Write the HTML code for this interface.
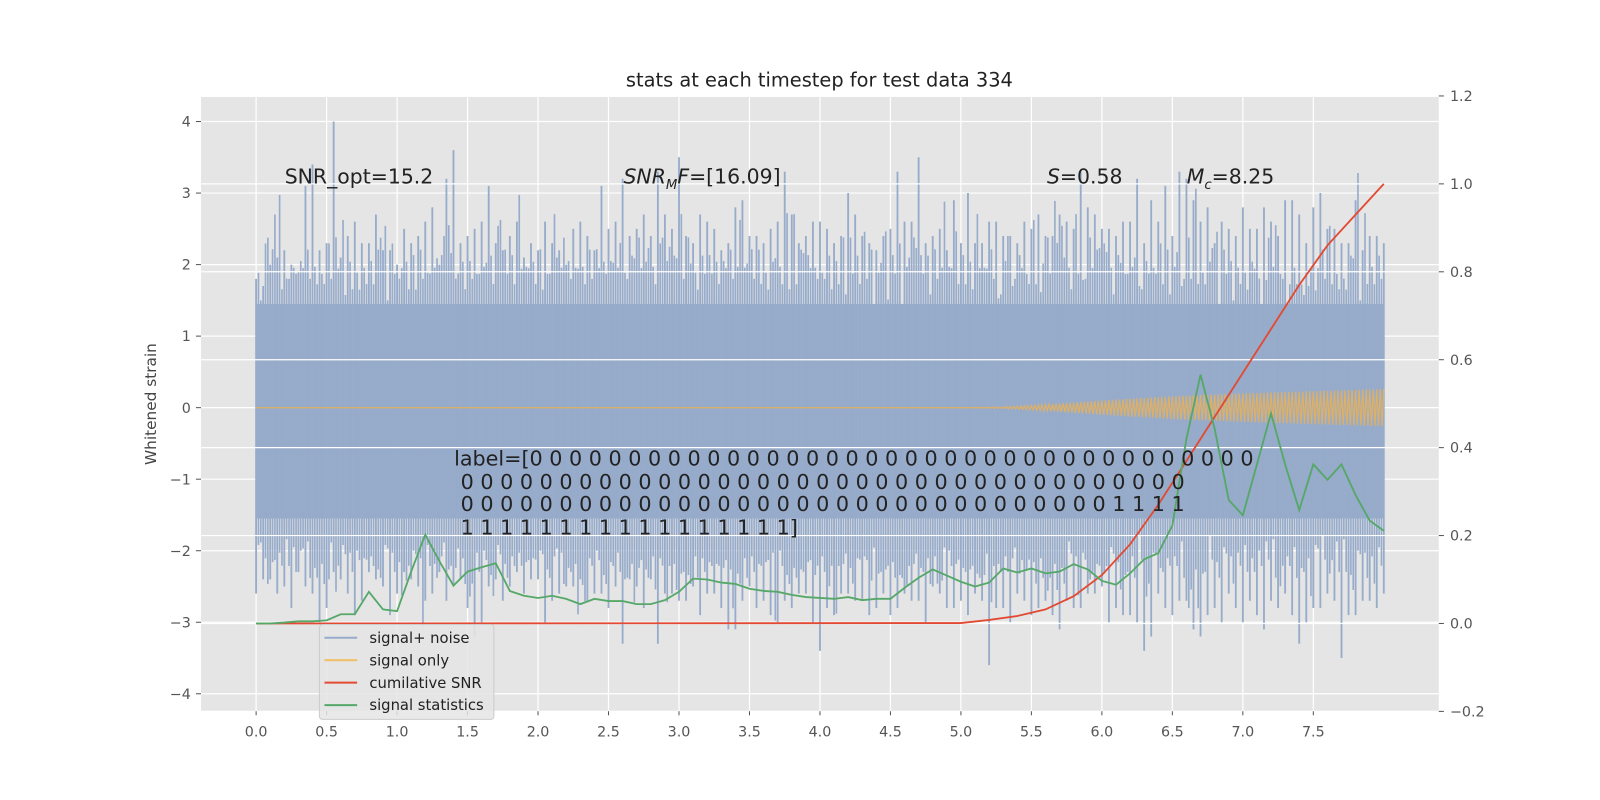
<!DOCTYPE html>
<html><head><meta charset="utf-8"><style>
html,body{margin:0;padding:0;background:#fff;overflow:hidden;width:1600px;height:800px;}
svg{display:block;}
svg text{font-family:"DejaVu Sans","Liberation Sans",sans-serif;}
#wrap{position:absolute;left:0;top:0;width:1568px;height:784px;transform:scale(1.020408);transform-origin:0 0;}
</style></head><body>
<div id="wrap">
<svg id="chart" width="1568" height="784" viewBox="0 0 1568 784" xmlns="http://www.w3.org/2000/svg" style="position:absolute;left:0;top:0;">
<rect x="0" y="0" width="1568" height="784" fill="#fff"/>
<rect x="197" y="95" width="1213" height="602" fill="#e5e5e5"/>
<g id="gridL"></g><g id="noise"></g><g id="signal"></g><g id="gridR"></g><g id="lines"></g><g id="axes"></g><g id="annot"></g>
</svg>
<div style="position:absolute;left:0;top:0;width:1568px;height:784px;pointer-events:none;font-family:'DejaVu Sans','Liberation Sans',sans-serif;color:#222;">
<div style="position:absolute;left:0;width:1606px;top:68px;text-align:center;font-size:19px;">stats at each timestep for test data 334</div>
<div style="position:absolute;left:148px;top:396px;font-size:15px;color:#444;transform:translate(-50%,-50%) rotate(-90deg);white-space:nowrap;">Whitened strain</div>
<div style="position:absolute;left:279px;top:161px;font-size:20px;">SNR_opt=15.2</div>
<div style="position:absolute;left:611px;top:161px;font-size:20px;"><i>SNR<sub style="font-size:13px">M</sub>F</i>=[16.09]</div>
<div style="position:absolute;left:1026px;top:161px;font-size:20px;"><i>S</i>=0.58</div>
<div style="position:absolute;left:1163px;top:161px;font-size:20px;"><i>M<sub style="font-size:13px">c</sub></i>=8.25</div>
<pre style="position:absolute;left:445px;top:438px;margin:0;font-family:'DejaVu Sans','Liberation Sans',sans-serif;font-size:20.3px;line-height:22.5px;color:#222;">label=[0 0 0 0 0 0 0 0 0 0 0 0 0 0 0 0 0 0 0 0 0 0 0 0 0 0 0 0 0 0 0 0 0 0 0 0 0
 0 0 0 0 0 0 0 0 0 0 0 0 0 0 0 0 0 0 0 0 0 0 0 0 0 0 0 0 0 0 0 0 0 0 0 0 0
 0 0 0 0 0 0 0 0 0 0 0 0 0 0 0 0 0 0 0 0 0 0 0 0 0 0 0 0 0 0 0 0 0 1 1 1 1
 1 1 1 1 1 1 1 1 1 1 1 1 1 1 1 1 1]</pre>
</div>
</div>
<script>
// ---- data ----
const xTicks=[0.0,0.5,1.0,1.5,2.0,2.5,3.0,3.5,4.0,4.5,5.0,5.5,6.0,6.5,7.0,7.5];
const yTicksL=[4,3,2,1,0,-1,-2,-3,-4];
const yTicksR=[1.2,1.0,0.8,0.6,0.4,0.2,0.0,-0.2];
const noiseUpper=[1.8,2.0,2.2,1.9,3.4,2.3,2.1,2.6,2.3,2.2,2.0,2.3,2.6,2.0,3.6,2.4,2.6,2.3,2.4,2.1,2.2,2.3,2.0,2.6,2.2,2.5,3.2,2.5,2.4,2.7,3.5,2.3,2.6,2.2,2.8,2.4,2.3,2.6,2.7,2.4,2.6,2.3,3.0,2.4,2.2,2.5,2.6,3.5,2.4,2.2,2.3,2.3,2.6,2.4,2.3,2.5,2.4,2.7,2.5,2.8,2.5,2.4,2.6,2.3,2.6,2.4,3.2,2.6,2.3,2.5,2.8,2.5,2.6,2.9,2.7,2.8,2.5,2.3,2.9,2.4,2.3];
const noiseUpper2=[1.7,2.1,2.0,3.1,2.2,4.0,2.4,2.3,2.7,2.2,2.5,2.4,2.8,3.2,2.3,2.5,3.1,2.2,2.6,2.3,2.6,2.2,2.5,2.4,3.1,2.6,2.4,2.7,3.3,2.5,2.4,2.7,2.5,2.3,2.9,2.4,2.5,3.3,2.3,2.6,2.5,2.4,2.7,2.3,2.4,3.3,2.6,2.3,2.5,2.9,3.0,2.3,2.6,2.4,2.6,2.7,2.4,2.6,3.3,2.7,2.5,2.6,3.2,2.9,3.1,3.3,2.9,2.8,2.6,2.4,2.5,2.8,2.4,2.9,2.3,3.0,2.5,2.3,2.2,2.4];
const noiseLower=[-2.6,-2.4,-2.5,-2.3,-2.6,-2.8,-2.4,-2.9,-2.3,-2.5,-2.6,-2.4,-2.7,-2.3,-2.5,-2.8,-3.0,-2.4,-2.5,-2.6,-2.4,-2.7,-2.5,-2.4,-2.6,-2.8,-3.3,-2.5,-2.4,-2.6,-2.7,-2.5,-2.6,-2.8,-3.1,-2.5,-2.7,-3.0,-2.8,-2.6,-3.4,-2.9,-2.6,-2.7,-2.8,-2.9,-2.6,-2.7,-2.5,-2.8,-2.7,-2.6,-3.6,-2.8,-2.6,-2.9,-2.7,-3.1,-2.8,-2.6,-2.5,-2.8,-2.9,-3.4,-2.6,-2.9,-2.7,-3.2,-2.8,-2.6,-3.0,-2.9,-2.7,-2.6,-3.3,-2.8,-2.6,-3.5,-2.9,-2.7,-2.6];
const noiseLower2=[-2.4,-2.6,-2.8,-2.5,-3.0,-2.3,-2.6,-2.7,-2.4,-2.9,-2.3,-2.5,-2.6,-2.7,-2.4,-3.2,-2.5,-2.7,-2.3,-2.4,-3.0,-2.6,-2.5,-2.7,-2.6,-2.5,-2.4,-2.8,-3.3,-2.6,-2.7,-2.9,-2.6,-3.1,-2.7,-2.8,-2.9,-2.7,-2.6,-3.0,-2.8,-2.6,-2.7,-2.9,-2.6,-2.8,-2.7,-3.0,-2.6,-2.8,-2.9,-2.7,-2.8,-3.0,-2.7,-2.8,-2.9,-2.7,-2.8,-2.6,-3.0,-2.9,-3.0,-3.2,-2.8,-2.7,-3.1,-2.9,-3.0,-2.8,-2.7,-3.1,-2.8,-2.9,-3.0,-2.8,-2.7,-2.9,-2.7,-2.8];
const coreHi=1.45, coreLo=-1.55;
const sigT=[0,5.0,5.3,5.5,6.0,6.5,7.0,7.5,8.0];
const sigAmp=[0,0,0.01,0.03,0.1,0.16,0.2,0.23,0.26];
const snrT=[0,5.0,5.2,5.4,5.6,5.8,6.0,6.2,6.4,6.6,6.8,7.0,7.2,7.4,7.6,7.8,8.0];
const snrV=[0,0.001,0.008,0.017,0.032,0.062,0.11,0.18,0.27,0.37,0.47,0.57,0.67,0.77,0.86,0.93,1.0];
const statV=[0,0,0.002,0.005,0.005,0.007,0.021,0.021,0.072,0.032,0.028,0.118,0.202,0.142,0.086,0.118,0.128,0.137,0.074,0.063,0.058,0.063,0.056,0.044,0.056,0.051,0.051,0.044,0.044,0.053,0.072,0.102,0.1,0.093,0.09,0.079,0.074,0.072,0.065,0.06,0.058,0.056,0.06,0.053,0.056,0.056,0.081,0.104,0.123,0.109,0.095,0.084,0.093,0.125,0.116,0.125,0.114,0.118,0.135,0.123,0.097,0.088,0.114,0.146,0.16,0.223,0.42,0.566,0.443,0.281,0.246,0.362,0.478,0.362,0.258,0.362,0.327,0.362,0.292,0.234,0.211];
const statDt=0.1;
const legendLabels=["signal+ noise","signal only","cumilative SNR","signal statistics"];
// ---- scales ----
const X=t=>251+t*138.14;
const YL=v=>399.5-v*70.1;
const YR=v=>611-v*430.8;
const NS="http://www.w3.org/2000/svg";
function mk(tag,attrs,parent,txt){const e=document.createElementNS(NS,tag);for(const k in attrs)e.setAttribute(k,attrs[k]);if(txt!==undefined)e.textContent=txt;parent.appendChild(e);return e;}
const gL=document.getElementById('gridL'),gR=document.getElementById('gridR'),gN=document.getElementById('noise'),gS=document.getElementById('signal'),gLn=document.getElementById('lines'),gA=document.getElementById('axes'),gT=document.getElementById('annot');
xTicks.forEach(t=>{const l=mk('line',{x1:X(t),x2:X(t),y1:95,y2:697,stroke:'#fff','stroke-width':1.2},gL);


mk('line',{x1:X(t),x2:X(t),y1:697,y2:701,stroke:'#555'},gA);
const tx=mk('text',{x:X(t),y:722,'font-size':14,fill:'#555','text-anchor':'middle'},gA,t.toFixed(1));

});
yTicksL.forEach(v=>{const l=mk('line',{x1:197,x2:1410,y1:YL(v),y2:YL(v),stroke:'#fff','stroke-width':1.2},gL);


mk('line',{x1:192,x2:197,y1:YL(v),y2:YL(v),stroke:'#555'},gA);
const tx=mk('text',{x:187,y:YL(v)+5,'font-size':14,fill:'#555','text-anchor':'end'},gA,v===0?'0':(v<0?'\u2212'+(-v):String(v)));

});
yTicksR.forEach(v=>{const l=mk('line',{x1:197,x2:1410,y1:YR(v),y2:YR(v),stroke:'#fff','stroke-width':1.2},gR);


mk('line',{x1:1410,x2:1415,y1:YR(v),y2:YR(v),stroke:'#555'},gA);
const tx=mk('text',{x:1421,y:YR(v)+5,'font-size':14,fill:'#555'},gA,(v<0?'\u2212'+(-v).toFixed(1):v.toFixed(1)));

});
const blue='#97abca';
const core=mk('rect',{x:X(0),y:YL(coreHi),width:X(8)-X(0),height:YL(coreLo)-YL(coreHi),fill:blue},gN);


noiseUpper.forEach((u,i)=>{const t=i*0.1;const l=mk('line',{x1:X(t),x2:X(t),y1:YL(u),y2:YL(noiseLower[i]),stroke:blue,'stroke-width':1.8},gN);

});
noiseUpper2.forEach((u,i)=>{const t=i*0.1+0.05;const l=mk('line',{x1:X(t),x2:X(t),y1:YL(u),y2:YL(noiseLower2[i]),stroke:blue,'stroke-width':1.8},gN);

});
for(let i=0;i<noiseUpper.length-1;i++){
 const pairs=[[0.0167,noiseUpper2[(i+7)%80]*0.82,noiseLower[(i+11)%80]*0.8],[0.0333,noiseUpper[(i+13)%81]*0.75,noiseLower2[(i+5)%80]*0.82],
 [0.0667,noiseUpper[(i+29)%81]*0.85,noiseLower2[(i+23)%80]*0.78],[0.0833,noiseUpper2[(i+37)%80]*0.72,noiseLower[(i+41)%81]*0.85]];
 for(const [f,a,b] of pairs){const t=i*0.1+f;
 const l=mk('line',{x1:X(t),x2:X(t),y1:YL(a),y2:YL(b),stroke:blue,'stroke-width':1.6},gN);
 
 }}
function interp(ts,vs,t){for(let i=1;i<ts.length;i++){if(t<=ts[i]){const f=(t-ts[i-1])/(ts[i]-ts[i-1]);return vs[i-1]+f*(vs[i]-vs[i-1]);}}return vs[vs.length-1];}
let sp='';let k=0;for(let t=0;t<=8.0001;t+=0.0125){const a=interp(sigT,sigAmp,t);const v=(k%2?-a:a);sp+=(k?'L':'M')+X(t).toFixed(1)+','+YL(v).toFixed(1);k++;}
const sig=mk('path',{d:sp,fill:'none',stroke:'#e2b060','stroke-width':1.3,'stroke-opacity':0.9},gS);


const snr=mk('path',{d:snrT.map((t,i)=>(i?'L':'M')+X(t)+','+YR(snrV[i])).join(''),fill:'none',stroke:'#e24a33','stroke-width':1.8},gLn);


const st=mk('path',{d:statV.map((v,i)=>(i?'L':'M')+X(i*statDt)+','+YR(v)).join(''),fill:'none',stroke:'#55a868','stroke-width':1.8},gLn);


const lg=mk('g',{},gT);


mk('rect',{x:313,y:612,width:171,height:93,rx:3,fill:'#e5e5e5','fill-opacity':0.85,stroke:'#cccccc'},lg);
const lcols=['#97abca','#f0c06a','#e24a33','#55a868'];
legendLabels.forEach((s,i)=>{const y=625+i*22;
mk('line',{x1:318,x2:350,y1:y,y2:y,stroke:lcols[i],'stroke-width':2},lg);
const t=mk('text',{x:362,y:y+5,'font-size':14.5,fill:'#222'},lg,s);

});
</script>
</body></html>
